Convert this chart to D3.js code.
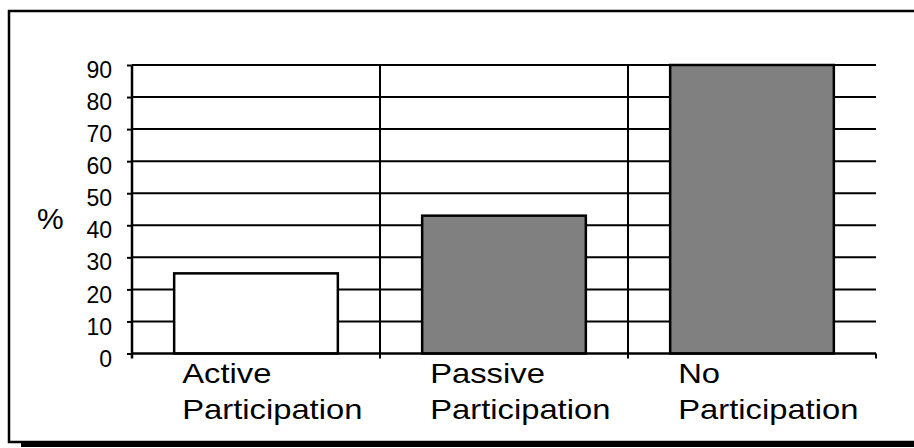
<!DOCTYPE html>
<html>
<head>
<meta charset="utf-8">
<script src="https://cdn.jsdelivr.net/npm/d3@7"></script>
<style>
  html, body { margin: 0; padding: 0; background: #fff; }
  svg { display: block; font-family: "Liberation Sans", Arial, sans-serif; }
</style>
</head>
<body>
<svg id="chart" width="914" height="448"></svg>
<script>
// Participation shares (%)
const categories = ["Active Participation", "Passive Participation", "No Participation"];
const labelLines = [["Active", "Participation"], ["Passive", "Participation"], ["No", "Participation"]];
const values = [25, 43, 90];
const fills = ["#ffffff", "#808080", "#808080"];
const yTicks = [0, 10, 20, 30, 40, 50, 60, 70, 80, 90];
const yTitle = "%";

const svg = d3.select("#chart");

// Outer frame with a heavy bottom edge
svg.append("rect")
  .attr("x", 9).attr("y", 11).attr("width", 930).attr("height", 431)
  .attr("fill", "none").attr("stroke", "#000").attr("stroke-width", 2.5);
svg.append("line")
  .attr("x1", 21).attr("x2", 914).attr("y1", 444.5).attr("y2", 444.5)
  .attr("stroke", "#000").attr("stroke-width", 5);

const x0 = 132, x1 = 876;
const x = d3.scaleBand().domain(categories).range([x0, x1])
  .paddingInner(0.34).paddingOuter(0.17);
const y = d3.scaleLinear().domain([0, 90]).range([353.5, 65]);

const step = x.step();
const bandStart = c => x(c) - step * x.paddingOuter();
const boundaries = categories.map(bandStart).concat([x1]);

// Horizontal gridlines
svg.append("g").selectAll("line").data(yTicks.filter(d => d > 0)).join("line")
  .attr("x1", x0).attr("x2", x1)
  .attr("y1", d => y(d)).attr("y2", d => y(d))
  .attr("stroke", "#000").attr("stroke-width", 2);

// Vertical separators between categories
svg.append("g").selectAll("line").data(boundaries.slice(1, -1)).join("line")
  .attr("x1", d => d).attr("x2", d => d)
  .attr("y1", y(90)).attr("y2", y(0) + 5)
  .attr("stroke", "#000").attr("stroke-width", 2);

// Bars
svg.append("g").selectAll("rect").data(categories).join("rect")
  .attr("x", d => x(d))
  .attr("width", x.bandwidth())
  .attr("y", (d, i) => y(values[i]))
  .attr("height", (d, i) => y(0) - y(values[i]))
  .attr("fill", (d, i) => fills[i])
  .attr("stroke", "#000").attr("stroke-width", 2.5);

// Y axis
const yAxis = svg.append("g").attr("transform", `translate(${x0},0)`)
  .call(d3.axisLeft(y).tickValues(yTicks).tickSize(5).tickPadding(15));
yAxis.select(".domain").remove();
yAxis.selectAll(".tick line").attr("stroke", "#000").attr("stroke-width", 2);
yAxis.selectAll(".tick text")
  .attr("font-family", "Liberation Sans, Arial, sans-serif")
  .attr("font-size", 23).attr("fill", "#000").attr("dy", "0.55em");
svg.append("line")
  .attr("x1", x0).attr("x2", x0).attr("y1", y(90)).attr("y2", y(0) + 5)
  .attr("stroke", "#000").attr("stroke-width", 2.5);

// X axis baseline and boundary ticks
svg.append("line")
  .attr("x1", x0).attr("x2", x1).attr("y1", y(0)).attr("y2", y(0))
  .attr("stroke", "#000").attr("stroke-width", 2.5);
svg.append("line")
  .attr("x1", x1).attr("x2", x1).attr("y1", y(0)).attr("y2", y(0) + 5)
  .attr("stroke", "#000").attr("stroke-width", 2);

// Category labels (two lines, left aligned under each bar, set slightly wide)
svg.append("g").selectAll("g").data(categories).join("g")
  .attr("transform", d => `translate(${x(d) + 8},383) scale(1.17,1)`)
  .each(function(d, i) {
    d3.select(this).selectAll("text").data(labelLines[i]).join("text")
      .attr("x", 0).attr("y", (t, j) => j * 36)
      .attr("font-size", 28).attr("fill", "#000")
      .text(t => t);
  });

// Y title
svg.append("text").attr("x", 37).attr("y", 229)
  .attr("font-size", 30).attr("fill", "#000").text(yTitle);
</script>
</body>
</html>
